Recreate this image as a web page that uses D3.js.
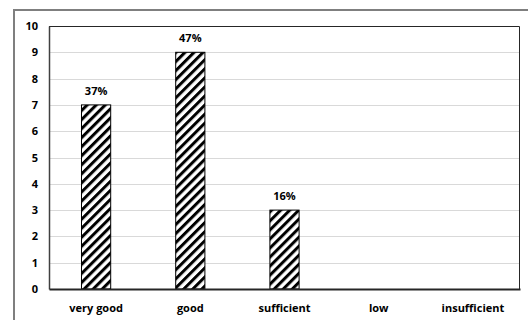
<!DOCTYPE html>
<html>
<head>
<meta charset="utf-8">
<script src="https://cdn.jsdelivr.net/npm/d3@7"></script>
<style>
  html, body { margin: 0; padding: 0; background: #fff; }
  svg { display: block; }
  text { font-family: "Open Sans", "Liberation Sans", sans-serif; font-weight: bold; fill: #000; }
</style>
</head>
<body>
<svg id="chart" width="528" height="320"></svg>
<script>
// Ratings: number of responses per category, with the share shown above each bar
const categories = ["very good", "good", "sufficient", "low", "insufficient"];
const counts = [7, 9, 3, 0, 0];
const shareLabels = ["37%", "47%", "16%", "", ""];
const yTicks = [0, 1, 2, 3, 4, 5, 6, 7, 8, 9, 10];

const svg = d3.select("#chart");
const W = 528, H = 320;
const plot = { left: 49, top: 26, right: 520, bottom: 289 };

// Diagonal hatch pattern for the bars
const defs = svg.append("defs");
const pat = defs.append("pattern")
  .attr("id", "hatch")
  .attr("patternUnits", "userSpaceOnUse")
  .attr("width", 6.4).attr("height", 6.4)
  .attr("patternTransform", "rotate(45)");
pat.append("rect").attr("width", 6.4).attr("height", 6.4).attr("fill", "#fff");
pat.append("rect").attr("width", 3.0).attr("height", 6.4).attr("fill", "#000");

// Outer chart frame
svg.append("rect")
  .attr("x", 14).attr("y", 10)
  .attr("width", W).attr("height", H)
  .attr("fill", "#fff")
  .attr("stroke", "#7f7f7f").attr("stroke-width", 2);

const x = d3.scaleBand()
  .domain(categories)
  .range([plot.left, plot.right])
  .paddingInner(0.69).paddingOuter(0.345);

const y = d3.scaleLinear()
  .domain([0, 10])
  .range([plot.bottom, plot.top]);

// Horizontal gridlines
svg.append("g")
  .selectAll("line")
  .data(yTicks.filter(d => d > 0 && d < 10))
  .join("line")
  .attr("x1", plot.left).attr("x2", plot.right)
  .attr("y1", d => Math.round(y(d)) + 0.5).attr("y2", d => Math.round(y(d)) + 0.5)
  .attr("stroke", "#d9d9d9").attr("stroke-width", 1);

// Plot area border (top and right)
svg.append("path")
  .attr("d", `M${plot.left},${plot.top + 0.5}H${plot.right - 0.5}V${plot.bottom}`)
  .attr("fill", "none").attr("stroke", "#262626").attr("stroke-width", 1);

// Y axis
const yAxis = svg.append("g")
  .attr("transform", `translate(${plot.left},0)`)
  .call(d3.axisLeft(y).tickValues(yTicks).tickSize(0).tickPadding(11).tickFormat(d3.format("d")));
yAxis.select(".domain").attr("stroke", "#404040").attr("stroke-width", 1.5);
yAxis.selectAll("text").attr("font-size", 11).style("font-family", "'Open Sans', sans-serif").style("font-weight", "bold");

// Bars
svg.append("g")
  .selectAll("rect")
  .data(counts)
  .join("rect")
  .attr("x", (d, i) => x(categories[i]))
  .attr("y", d => y(d))
  .attr("width", x.bandwidth())
  .attr("height", d => y(0) - y(d))
  .attr("fill", "url(#hatch)")
  .attr("stroke", d => d > 0 ? "#000" : "none")
  .attr("stroke-width", 1);

// Value labels above bars
svg.append("g")
  .selectAll("text")
  .data(counts)
  .join("text")
  .attr("x", (d, i) => x(categories[i]) + x.bandwidth() / 2)
  .attr("y", d => y(d) - 10)
  .attr("text-anchor", "middle")
  .attr("font-size", 11)
  .text((d, i) => shareLabels[i]);

// X axis
const xAxis = svg.append("g")
  .attr("transform", `translate(0,${plot.bottom})`)
  .call(d3.axisBottom(x).tickSize(0).tickPadding(15));
xAxis.select(".domain").attr("stroke", "#262626").attr("stroke-width", 2);
xAxis.selectAll("text").attr("font-size", 11).style("font-family", "'Open Sans', sans-serif").style("font-weight", "bold");
</script>
</body>
</html>
